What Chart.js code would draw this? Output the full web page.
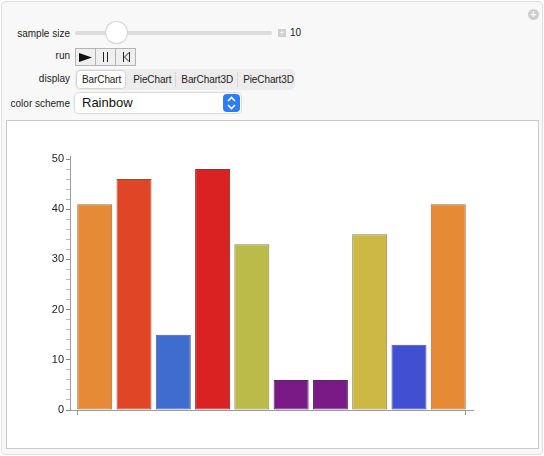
<!DOCTYPE html>
<html>
<head>
<meta charset="utf-8">
<script src="https://cdn.jsdelivr.net/npm/chart.js@4"></script>
<style>
  body { margin: 0; background: #fff; font-family: "Liberation Sans", Arial, sans-serif; }
  #panel { position: absolute; left: 1px; top: 1px; width: 540px; height: 452px;
    background: #f8f8f8; border: 1px solid #e0e0e0; border-radius: 4px; }
  .lbl { position: absolute; right: 474px; font-size: 10px; color: #222; white-space: nowrap; }
  #track { position: absolute; left: 75px; top: 31px; width: 197px; height: 4px; background: #dcdcdc; border-radius: 2px; }
  #thumb { position: absolute; left: 106px; top: 22px; width: 21px; height: 21px; border-radius: 50%;
    background: #fff; box-shadow: 0 0 1px 1px #d4d4d4; }
  #plus { position: absolute; left: 278px; top: 29px; width: 8px; height: 8px; background: #cfcfcf;
    color: #fff; font-size: 9px; line-height: 8px; text-align: center; }
  #val { position: absolute; left: 290px; top: 27px; font-size: 10px; color: #222; }
  #run { position: absolute; left: 75px; top: 48px; height: 16px; display: flex; border: 1px solid #b4b4b4; background: #efefef; }
  #run div { width: 19px; height: 16px; border-right: 1px solid #b4b4b4; display: flex; align-items: center; justify-content: center; }
  #run div:last-child { border-right: none; }
  #seg { position: absolute; left: 75px; top: 69px; width: 220px; height: 21px; background: #ececec; border-radius: 5px; display: flex; align-items: center; }
  #seg div { font-size: 10px; color: #222; padding: 0 4px 0 5px; height: 15px; line-height: 15px; border-right: 1px solid #d6d6d6; letter-spacing: -0.1px; }
  #seg div.on { background: #fff; border-radius: 4px; box-shadow: 0 0 1px 1px #d2d2d2; margin-left: 2px; height: 17px; line-height: 17px; border-right: none; margin-right: 3px; }
  #seg div:last-child { border-right: none; }
  #drop { position: absolute; left: 75px; top: 93px; width: 166px; height: 20px; background: #fff; border-radius: 4px; box-shadow: 0 0 1px 1px #d8d8d8; }
  #drop span { position: absolute; left: 7px; top: 2px; font-size: 13px; color: #111; }
  #step { position: absolute; right: 1px; top: 1px; width: 17px; height: 18px; background: #2e7cf6; border-radius: 4px; }
  #pane { position: absolute; left: 6px; top: 120px; width: 531px; height: 327px; background: #fff; border: 1px solid #c9c9c9; }
  #addbtn { position: absolute; left: 528px; top: 9px; width: 11px; height: 11px; border-radius: 50%; background: #cdcdcd;
    color: #fff; font-size: 10px; line-height: 11px; text-align: center; font-weight: bold; }
  #wrap { position: absolute; left: 7px; top: 121px; width: 530px; height: 326px; }
</style>
</head>
<body>
<div id="panel"></div>
<div id="addbtn">+</div>
<div class="lbl" style="top:28px">sample size</div>
<div id="track"></div>
<div id="thumb"></div>
<div id="plus">+</div>
<div id="val">10</div>
<div class="lbl" style="top:50px">run</div>
<div id="run">
  <div><svg width="13" height="9"><polygon points="0,0 13,4.5 0,9" fill="#111"/></svg></div>
  <div><svg width="7" height="10"><line x1="1.5" y1="0" x2="1.5" y2="10" stroke="#222"/><line x1="5.5" y1="0" x2="5.5" y2="10" stroke="#222"/></svg></div>
  <div><svg width="8" height="10"><line x1="1.5" y1="0" x2="1.5" y2="10" stroke="#222"/><polyline points="7,0.5 2.5,5 7,9.5" fill="none" stroke="#222"/><line x1="7.5" y1="0" x2="7.5" y2="10" stroke="#222"/></svg></div>
</div>
<div class="lbl" style="top:73px">display</div>
<div id="seg">
  <div class="on">BarChart</div>
  <div>PieChart</div>
  <div>BarChart3D</div>
  <div>PieChart3D</div>
</div>
<div class="lbl" style="top:98px">color scheme</div>
<div id="drop"><span>Rainbow</span>
  <div id="step"><svg width="17" height="18"><polyline points="5,7 8.5,3.5 12,7" fill="none" stroke="#fff" stroke-width="1.6"/><polyline points="5,11 8.5,14.5 12,11" fill="none" stroke="#fff" stroke-width="1.6"/></svg></div>
</div>
<div id="pane"></div>
<div id="wrap"><canvas id="myChart" width="530" height="326"></canvas></div>
<script>
// sampled values, one bar each
var sampleValues = [41, 46, 15, 48, 33, 6, 6, 35, 13, 41];
var barColors = ["#e68a36", "#e04526", "#3f6ccf", "#db2222", "#bbbb4a", "#7a1a86", "#7a1a86", "#cdb845", "#4150d0", "#e68a36"];
var edgeColors = ["#9c6a3a", "#9a4a35", "#4a5f95", "#983030", "#85854a", "#5a2866", "#5a2866", "#8f8446", "#464e96", "#9c6a3a"];
var yTicks = [0, 10, 20, 30, 40, 50];

function barChart() {
  var ctx = document.getElementById('myChart').getContext('2d');
  var points = sampleValues.map(function (v, i) { return { x: i, y: v }; });
  var myChart = new Chart(ctx, {
    type: 'bar',
    data: {
      datasets: [{
        data: points,
        backgroundColor: barColors,
        borderColor: edgeColors,
        borderWidth: 1,
        borderSkipped: false,
        barPercentage: 0.891,
        categoryPercentage: 1
      }]
    },
    options: {
      responsive: false,
      animation: false,
      events: [],
      layout: { padding: { left: 0, right: 64, top: 35, bottom: 27 } },
      plugins: { legend: { display: false }, tooltip: { enabled: false } },
      scales: {
        x: {
          type: 'linear',
          offset: false,
          bounds: 'data',
          min: -0.63,
          max: 9.63,
          afterBuildTicks: function (scale) {
            scale.ticks = [{ value: -0.4455 }, { value: sampleValues.length - 1 + 0.4455 }];
          },
          afterFit: function (scale) { scale.height = 10; },
          ticks: { display: false },
          grid: { offset: false, drawOnChartArea: false, tickLength: 5, color: '#9a9a9a' },
          border: { color: '#9a9a9a' }
        },
        y: {
          min: 0,
          max: 50.6,
          afterBuildTicks: function (scale) {
            var t = [];
            for (var v = 0; v <= yTicks[yTicks.length - 1]; v += 2) t.push({ value: v });
            scale.ticks = t;
          },
          afterFit: function (scale) { scale.width = 63; },
          ticks: {
            autoSkip: false,
            padding: 2,
            color: '#222',
            font: { family: 'Liberation Sans', size: 11 },
            callback: function (v) { return yTicks.indexOf(v) >= 0 ? v : ''; }
          },
          grid: {
            drawOnChartArea: false,
            tickLength: 4,
            color: function (c) { return yTicks.indexOf(c.tick.value) >= 0 ? '#8a8a8a' : '#bdbdbd'; }
          },
          border: { color: '#9a9a9a' }
        }
      }
    }
  });
}

barChart();
</script>
</body>
</html>
